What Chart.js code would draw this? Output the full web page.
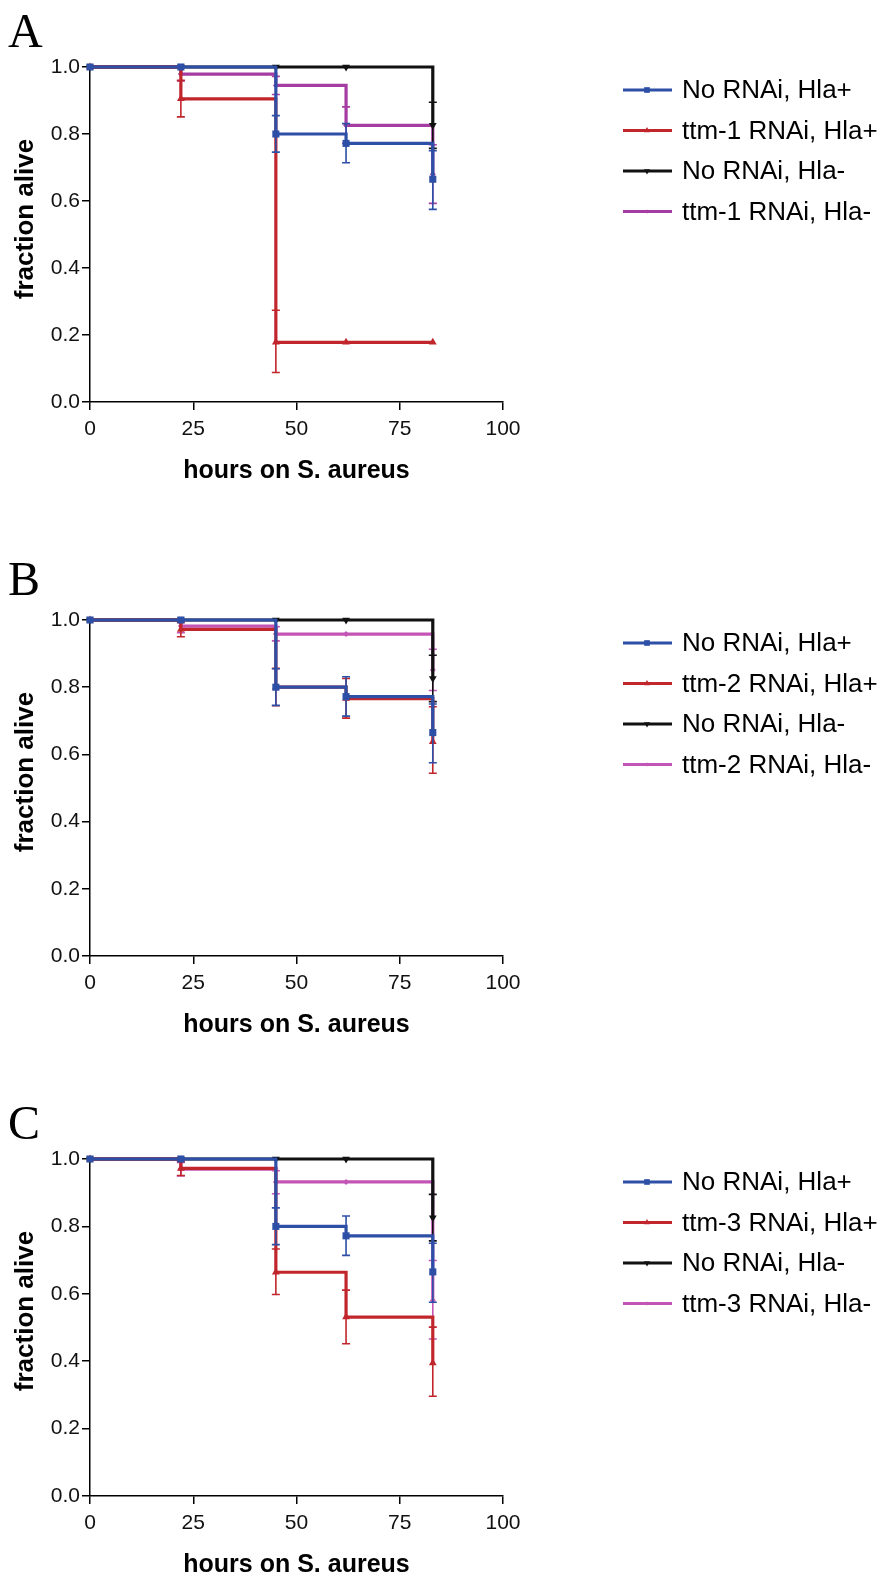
<!DOCTYPE html>
<html>
<head>
<meta charset="utf-8">
<script src="https://cdn.jsdelivr.net/npm/chart.js@4.4.1/dist/chart.umd.min.js"></script>
<style>
body{margin:0;background:#fff;width:887px;height:1580px;position:relative;overflow:hidden;}
canvas{position:absolute;left:0;}
</style>
</head>
<body>
<canvas id="chartA" width="887" height="500" style="top:0px"></canvas>
<canvas id="chartB" width="887" height="500" style="top:553px"></canvas>
<canvas id="chartC" width="887" height="488" style="top:1092px"></canvas>
<script>

// time points and axis ticks
const hours = [0, 22, 45, 62, 83];
const xTicks = [0, 25, 50, 75, 100];
const yTicks = [0, 0.2, 0.4, 0.6, 0.8, 1.0];

// controls (same in every panel)
const noRnaiPlus = [1, 1, 0.800, 0.772, 0.665];
const noRnaiPlusLow = [null, null, 0.746, 0.714, 0.575];
const noRnaiPlusHigh = [null, null, 0.855, 0.831, 0.750];

const noRnaiMinus = [1, 1, 1, 1, 0.826];
const noRnaiMinusLow = [null, null, null, null, 0.757];
const noRnaiMinusHigh = [null, null, null, null, 0.895];

// panel A, ttm-1
const ttm1Plus = [1, 0.905, 0.178, 0.178, 0.178];
const ttm1PlusLow = [null, 0.851, 0.088, null, null];
const ttm1PlusHigh = [null, 0.960, 0.274, null, null];
const ttm1Minus = [1, 0.979, 0.945, 0.826, 0.680];
const ttm1MinusLow = [null, 0.958, 0.918, 0.772, 0.593];
const ttm1MinusHigh = [null, 1.0, 0.972, 0.881, 0.768];

// panel B, ttm-2
const ttm2Plus = [1, 0.972, 0.800, 0.766, 0.638];
const ttm2PlusLow = [null, 0.950, 0.745, 0.708, 0.544];
const ttm2PlusHigh = [null, 0.993, 0.856, 0.826, 0.742];
const ttm2Minus = [1, 0.982, 0.958, 0.958, 0.851];
const ttm2MinusLow = [null, 0.962, 0.938, null, 0.790];
const ttm2MinusHigh = [null, 1.0, 0.980, null, 0.913];

// panel C, ttm-3
const ttm3Plus = [1, 0.972, 0.664, 0.531, 0.395];
const ttm3PlusLow = [null, 0.951, 0.598, 0.452, 0.296];
const ttm3PlusHigh = [null, 0.993, 0.733, 0.611, 0.501];
const ttm3Minus = [1, 0.970, 0.932, 0.932, 0.580];
const ttm3MinusLow = [null, 0.950, 0.897, null, 0.466];
const ttm3MinusHigh = [null, 0.990, 0.965, null, 0.699];


const FONT = '"Liberation Sans", Arial, Helvetica, sans-serif';
const BLUE = '#2d4fa6';
const RED = '#c1262c';
const BLACK = '#111111';


// vertical error bars with caps, drawn right after each line
const errorBars = {

id: 'errorBars',

afterDatasetDraw(chart, args){

const ds = chart.data.datasets[args.index];
if(!ds.low) return;

const xs = chart.scales.x;
const ys = chart.scales.y;
const ctx = chart.ctx;

ctx.save();
ctx.strokeStyle = ds.borderColor;
ctx.lineWidth = 1.6;

hours.forEach(function(h, i){

if(ds.low[i] == null) return;

let px = xs.getPixelForValue(h);
let pl = ys.getPixelForValue(ds.low[i]);
let ph = ys.getPixelForValue(ds.high[i]);

ctx.beginPath();
ctx.moveTo(px, pl);
ctx.lineTo(px, ph);
ctx.moveTo(px - 4, pl);
ctx.lineTo(px + 4, pl);
ctx.moveTo(px - 4, ph);
ctx.lineTo(px + 4, ph);
ctx.stroke();

});

ctx.restore();

}

};


// panel letter, y title and legend
function decor(letter, letterY){

return {

id: 'decor',

afterDraw(chart){

const ctx = chart.ctx;
const area = chart.chartArea;

ctx.save();

ctx.fillStyle = '#000';
ctx.font = '48px "Liberation Serif", "Times New Roman", serif';
ctx.textAlign = 'left';
ctx.textBaseline = 'alphabetic';
ctx.fillText(letter, 8, letterY);

ctx.save();
ctx.translate(26, area.top + 152);
ctx.rotate(-Math.PI / 2);
ctx.font = 'bold 26px ' + FONT;
ctx.textAlign = 'center';
ctx.textBaseline = 'middle';
ctx.fillText('fraction alive', 0, 0);
ctx.restore();

chart.data.datasets.forEach(function(ds, i){

let y = area.top + 23 + i * 40.5;

ctx.strokeStyle = ds.borderColor;
ctx.fillStyle = ds.borderColor;
ctx.lineWidth = 3.2;
ctx.beginPath();
ctx.moveTo(623, y);
ctx.lineTo(672, y);
ctx.stroke();

if(Chart.helpers && Chart.helpers.drawPoint){
Chart.helpers.drawPoint(ctx, {pointStyle: ds.pointStyle, radius: ds.pointRadius - 1, rotation: ds.pointRotation || 0, borderWidth: 0}, 647, y);
}

ctx.fillStyle = '#000';
ctx.font = '26px ' + FONT;
ctx.textAlign = 'left';
ctx.textBaseline = 'middle';
ctx.fillText(ds.label, 682, y + 1);

});

ctx.restore();

}

};

}


function points(vals){
return hours.map(function(h, i){ return {x: h, y: vals[i]}; });
}


function line(label, color, vals, low, high, style, radius, rotation){

return {
label: label,
data: points(vals),
low: low,
high: high,
borderColor: color,
backgroundColor: color,
borderWidth: 3.2,
stepped: 'before',
fill: false,
pointStyle: style,
pointRadius: radius,
pointRotation: rotation || 0,
pointBackgroundColor: color,
pointBorderWidth: 0,
pointHoverRadius: radius,
clip: false
};

}


function makePanel(id, letter, letterY, canvasH, plotH, datasets){

const top = 67;
const xh = canvasH - top - plotH;
const titlePad = xh - 69 - 15;

new Chart(document.getElementById(id), {

type: 'line',

data: {datasets: datasets},

options: {
responsive: false,
animation: false,
layout: {padding: {top: top, left: 0, right: 384, bottom: 0}},
plugins: {legend: {display: false}, tooltip: {enabled: false}},
scales: {
x: {
type: 'linear',
min: 0,
max: 100,
afterBuildTicks: function(s){ s.ticks = xTicks.map(function(v){ return {value: v}; }); },
afterFit: function(s){ s.height = xh; },
border: {color: '#000', width: 1.5},
grid: {drawOnChartArea: false, color: '#000', lineWidth: 1.5, tickLength: 8},
ticks: {color: '#111', font: {family: FONT, size: 21}, padding: 7, maxRotation: 0, autoSkip: false},
title: {display: true, text: 'hours on S. aureus', color: '#000', font: {family: FONT, size: 25, weight: 'bold'}, padding: {top: 0, bottom: titlePad}}
},
y: {
type: 'linear',
min: 0,
max: 1,
afterBuildTicks: function(s){ s.ticks = yTicks.map(function(v){ return {value: v}; }); },
afterFit: function(s){ s.width = 90; },
border: {color: '#000', width: 1.5},
grid: {drawOnChartArea: false, color: '#000', lineWidth: 1.5, tickLength: 8},
ticks: {color: '#111', font: {family: FONT, size: 21}, padding: 2, callback: function(v){ return Number(v).toFixed(1); }}
}
}
},

plugins: [errorBars, decor(letter, letterY)]

});

}


makePanel('chartA', 'A', 47, 500, 335, [
line('No RNAi, Hla+', BLUE, noRnaiPlus, noRnaiPlusLow, noRnaiPlusHigh, 'rect', 5),
line('ttm-1 RNAi, Hla+', RED, ttm1Plus, ttm1PlusLow, ttm1PlusHigh, 'triangle', 4.5),
line('No RNAi, Hla-', BLACK, noRnaiMinus, noRnaiMinusLow, noRnaiMinusHigh, 'triangle', 4.5, 180),
line('ttm-1 RNAi, Hla-', '#a53ca2', ttm1Minus, ttm1MinusLow, ttm1MinusHigh, 'rectRot', 3)
]);

makePanel('chartB', 'B', 42, 500, 336, [
line('No RNAi, Hla+', BLUE, noRnaiPlus, noRnaiPlusLow, noRnaiPlusHigh, 'rect', 5),
line('ttm-2 RNAi, Hla+', RED, ttm2Plus, ttm2PlusLow, ttm2PlusHigh, 'triangle', 4.5),
line('No RNAi, Hla-', BLACK, noRnaiMinus, noRnaiMinusLow, noRnaiMinusHigh, 'triangle', 4.5, 180),
line('ttm-2 RNAi, Hla-', '#c255b5', ttm2Minus, ttm2MinusLow, ttm2MinusHigh, 'rectRot', 3)
]);

makePanel('chartC', 'C', 47, 488, 337, [
line('No RNAi, Hla+', BLUE, noRnaiPlus, noRnaiPlusLow, noRnaiPlusHigh, 'rect', 5),
line('ttm-3 RNAi, Hla+', RED, ttm3Plus, ttm3PlusLow, ttm3PlusHigh, 'triangle', 4.5),
line('No RNAi, Hla-', BLACK, noRnaiMinus, noRnaiMinusLow, noRnaiMinusHigh, 'triangle', 4.5, 180),
line('ttm-3 RNAi, Hla-', '#c255b5', ttm3Minus, ttm3MinusLow, ttm3MinusHigh, 'rectRot', 3)
]);

</script>
</body>
</html>
